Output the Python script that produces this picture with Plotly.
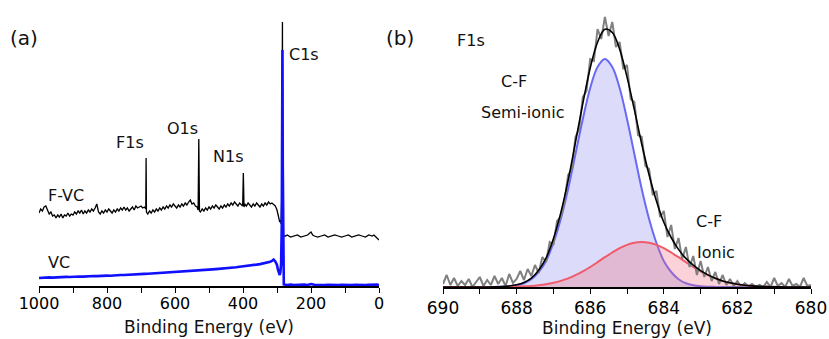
import plotly.graph_objects as go
import numpy as np

# ---------------- Panel (a): survey spectra ----------------
fvc_ev = [1000, 995, 990, 985, 980, 975, 970, 965, 960, 955,
          950, 945, 940, 935, 930, 925, 920, 915, 910, 905,
          900, 895, 890, 885, 880, 875, 870, 865, 860, 855,
          850, 845, 840, 835, 830, 825, 820, 815, 810, 805,
          800, 795, 790, 785, 780, 775, 770, 765, 760, 755,
          750, 745, 740, 735, 730, 725, 720, 715, 710, 705,
          700, 695, 690, 686, 685, 684, 680, 675, 670, 665,
          660, 655, 650, 645, 640, 635, 630, 625, 620, 615,
          610, 605, 600, 595, 590, 585, 580, 575, 570, 565,
          560, 555, 550, 545, 540, 535, 532, 530, 528, 525,
          520, 515, 510, 505, 500, 495, 490, 485, 480, 475,
          470, 465, 460, 455, 450, 445, 440, 435, 430, 425,
          420, 415, 410, 405, 401, 399, 397, 395, 390, 385,
          380, 375, 370, 365, 360, 355, 350, 345, 340, 335,
          330, 325, 320, 315, 310, 305, 300, 297, 294, 292,
          290, 288, 286, 285, 284, 283, 282, 281, 275, 270,
          260, 250, 240, 230, 220, 210, 200, 195, 190, 180,
          170, 160, 150, 140, 130, 120, 110, 100, 90, 80,
          70, 60, 50, 40, 30, 20, 15, 10, 5, 0]
fvc_counts = [73, 77, 75, 79, 80, 76, 72, 74, 70, 71,
              68, 71, 69, 72, 68, 71, 70, 73, 70, 72,
              71, 74, 72, 75, 73, 76, 72, 75, 73, 76,
              74, 77, 75, 78, 82, 74, 72, 75, 73, 76,
              74, 77, 75, 73, 76, 74, 77, 75, 78, 76,
              79, 76, 78, 75, 77, 79, 76, 80, 78, 79,
              80, 78, 79, 77, 128, 74, 72, 75, 73, 76,
              74, 77, 75, 78, 76, 79, 77, 80, 78, 81,
              79, 82, 80, 78, 81, 79, 82, 80, 83, 81,
              84, 86, 82, 83, 80, 79, 76, 147, 75, 74,
              77, 75, 78, 76, 79, 77, 80, 78, 81, 79,
              77, 80, 78, 81, 79, 82, 80, 83, 81, 84,
              82, 80, 83, 81, 80, 113, 79, 82, 80, 83,
              81, 79, 82, 80, 83, 81, 79, 82, 80, 83,
              81, 84, 82, 83, 81, 80, 76, 72, 68, 64,
              66, 62, 90, 200, 264, 120, 55, 50, 50, 51,
              49, 50, 51, 49, 50, 51, 54, 51, 50, 49,
              50, 51, 49, 50, 51, 50, 49, 50, 51, 49,
              50, 51, 50, 49, 51, 50, 51, 49, 48, 46]

vc_ev = [1000, 990, 980, 970, 960, 950, 940, 930, 920, 910,
         900, 890, 880, 870, 860, 850, 840, 830, 820, 810,
         800, 790, 780, 770, 760, 750, 740, 730, 720, 710,
         700, 690, 680, 670, 660, 650, 640, 630, 620, 610,
         600, 590, 580, 570, 560, 550, 540, 530, 520, 510,
         500, 490, 480, 470, 460, 450, 440, 430, 420, 410,
         400, 390, 380, 370, 360, 350, 340, 330, 320, 315,
         310, 305, 300, 297, 294, 292, 290, 288, 286, 285,
         284, 283, 282, 281, 280, 270, 260, 250, 240, 230,
         220, 210, 200, 190, 180, 170, 160, 150, 140, 130,
         120, 110, 100, 90, 80, 70, 60, 50, 40, 30,
         20, 10, 5, 0]
vc_counts = [8, 8.3, 8, 8.6, 8.4, 8.7, 8.9, 8.6, 9.1, 9.0,
             9.3, 9.2, 9.5, 9.4, 9.8, 9.6, 10.0, 9.9, 10.2, 10.1,
             10.4, 10.3, 10.7, 10.6, 11.0, 11.0, 11.3, 11.4, 11.6, 11.8,
             12.0, 12.1, 12.3, 12.5, 12.6, 12.9, 13.0, 13.2, 13.4, 13.5,
             13.8, 14.0, 14.2, 14.6, 14.7, 15.1, 15.3, 15.4, 15.8, 16.0,
             16.3, 16.6, 16.9, 17.1, 17.5, 17.8, 18.1, 18.5, 18.8, 19.3,
             19.6, 20.0, 20.4, 20.9, 21.4, 21.9, 22.5, 23.2, 24.2, 25.0,
             26.5, 24.5, 21, 16, 12, 11, 14, 22, 60, 150,
             236, 120, 30, 3, 1.5, 1, 1.5, 1, 1.2, 1,
             1.4, 1, 2, 1.2, 1, 1.3, 1, 1.2, 1, 1.3,
             1, 1.2, 1, 1.1, 1, 1.3, 1, 1.2, 1, 1.1,
             1, 1.3, 1.5, 0.5]

# ---------------- Panel (b): F1s high resolution ----------------
f1s_ev = np.round(np.arange(690.0, 679.95, -0.1), 1)
f1s_raw = [3, 12, 2, 9, 1, 6, 2, 8, 0, 5,
           10, 1, 7, 2, 11, 3, 9, 1, 13, 4,
           8, 16, 7, 18, 11, 22, 14, 30, 25, 45,
           42, 66, 70, 85, 112, 118, 150, 158, 190, 196,
           228, 226, 258, 248, 270, 251, 265, 240, 245, 218,
           222, 188, 185, 152, 150, 121, 118, 92, 96, 70,
           76, 50, 62, 38, 49, 28, 40, 20, 31, 12,
           26, 10, 20, 6, 15, 3, 12, 2, 8, 1,
           6, 0, 4, 1, 3, 0, 2, 0, 5, 0,
           9, 1, 4, 0, 8, 1, 3, 0, 9, 1,
           2]

fit_ev = np.round(np.arange(690.0, 679.95, -0.2), 1)
semi_ionic = [0, 0, 0, 0, 0, 0, 0, 0.1, 0.3, 0.8,
              1.8, 3.8, 7.8, 15, 26, 44, 68, 98, 133, 168,
              199, 220, 228, 220, 199, 168, 133, 98, 68, 44,
              26, 15, 7.8, 3.8, 1.8, 0.8, 0.3, 0.1, 0, 0,
              0, 0, 0, 0, 0, 0, 0, 0, 0, 0, 0]
ionic = [0, 0, 0, 0, 0, 0, 0, 0, 0.1, 0.2,
         0.4, 0.7, 1.1, 1.8, 2.8, 4.2, 6.1, 8.6, 11.8, 15.6,
         20.0, 24.8, 29.8, 34.5, 38.8, 42.1, 44.3, 45, 44.3, 42.1,
         38.8, 34.5, 29.8, 24.8, 20.0, 15.6, 11.8, 8.6, 6.1, 4.2,
         2.8, 1.8, 1.1, 0.7, 0.4, 0.2, 0.1, 0, 0, 0, 0]
envelope = [0, 0, 0, 0, 0, 0, 0, 0.1, 0.4, 1.0,
            2.2, 4.5, 8.9, 16.8, 28.8, 48.2, 74.1, 106.6, 144.8, 183.6,
            219, 244.8, 257.8, 254.5, 237.8, 210.1, 177.3, 143, 112.3, 86.1,
            64.8, 49.5, 37.6, 28.6, 21.8, 16.4, 12.1, 8.7, 6.1, 4.2,
            2.8, 1.8, 1.1, 0.7, 0.4, 0.2, 0.1, 0, 0, 0, 0]

FONT = "DejaVu Sans"
W, H = 829, 339

def px(x):
    return x / W

def py(y):
    return 1 - y / H

fig = go.Figure()

# panel a
fig.add_trace(go.Scatter(x=fvc_ev, y=fvc_counts, mode="lines",
                         line=dict(color="black", width=1.3),
                         xaxis="x", yaxis="y", showlegend=False))
fig.add_trace(go.Scatter(x=vc_ev, y=vc_counts, mode="lines",
                         line=dict(color="#1010ff", width=2.6),
                         xaxis="x", yaxis="y", showlegend=False))

# panel b
fig.add_trace(go.Scatter(x=fit_ev, y=semi_ionic, mode="lines", line_shape="spline",
                         line=dict(color="#6a6af5", width=2),
                         fill="tozeroy", fillcolor="rgba(110,110,235,0.24)",
                         xaxis="x2", yaxis="y2", showlegend=False))
fig.add_trace(go.Scatter(x=fit_ev, y=ionic, mode="lines", line_shape="spline",
                         line=dict(color="#f05a6a", width=2),
                         fill="tozeroy", fillcolor="rgba(238,105,122,0.30)",
                         xaxis="x2", yaxis="y2", showlegend=False))
fig.add_trace(go.Scatter(x=f1s_ev, y=f1s_raw, mode="lines",
                         line=dict(color="#808080", width=2),
                         xaxis="x2", yaxis="y2", showlegend=False))
fig.add_trace(go.Scatter(x=fit_ev, y=envelope, mode="lines", line_shape="spline",
                         line=dict(color="black", width=1.6),
                         xaxis="x2", yaxis="y2", showlegend=False))

ydom_a = [py(286), py(14)]
ydom_b = [py(287), py(15)]

def axis_common(size, standoff):
    return dict(showline=True, linecolor="black", linewidth=1.5,
                ticks="outside", ticklen=5, tickwidth=1.2, tickcolor="black",
                showgrid=False, zeroline=False, automargin=False,
                ticklabelstandoff=standoff,
                tickfont=dict(family=FONT, size=size, color="black"))

fig.update_layout(
    width=W, height=H,
    margin=dict(l=0, r=0, t=0, b=0, pad=0, autoexpand=False),
    paper_bgcolor="white", plot_bgcolor="white",
    xaxis=dict(domain=[px(39), px(379)], range=[1000, 0], dtick=200,
               minor=dict(dtick=100, ticks="outside", ticklen=5, tickwidth=1.2, tickcolor="black"),
               anchor="y", **axis_common(16, -3)),
    yaxis=dict(domain=ydom_a, range=[0, 272], visible=False, anchor="x", automargin=False),
    xaxis2=dict(domain=[px(443), px(811)], range=[690, 680], dtick=2,
                minor=dict(dtick=1, ticks="outside", ticklen=5, tickwidth=1.2, tickcolor="black"),
                anchor="y2", **axis_common(17, 0)),
    yaxis2=dict(domain=ydom_b, range=[0, 272], visible=False, anchor="x2", automargin=False),
    font=dict(family=FONT, color="black"),
)

def label(text, x, y, size=16):
    fig.add_annotation(text=text, x=px(x), y=py(y), xref="paper", yref="paper",
                       xanchor="center", yanchor="middle", showarrow=False,
                       font=dict(family=FONT, size=size, color="#111"))

label("(a)", 24, 38, 20)
label("(b)", 400, 38, 20)
label("F1s", 130, 142)
label("O1s", 182, 128)
label("N1s", 228, 156)
label("C1s", 304, 54)
label("F-VC", 66, 195)
label("VC", 59, 262)
label("F1s", 471, 40)
label("C-F", 514, 82)
label("Semi-ionic", 522, 113)
label("C-F", 709, 221)
label("Ionic", 716, 252)
label("Binding Energy (eV)", 209, 327, 17)
label("Binding Energy (eV)", 627, 328, 17)

fig.write_html("out.html")
